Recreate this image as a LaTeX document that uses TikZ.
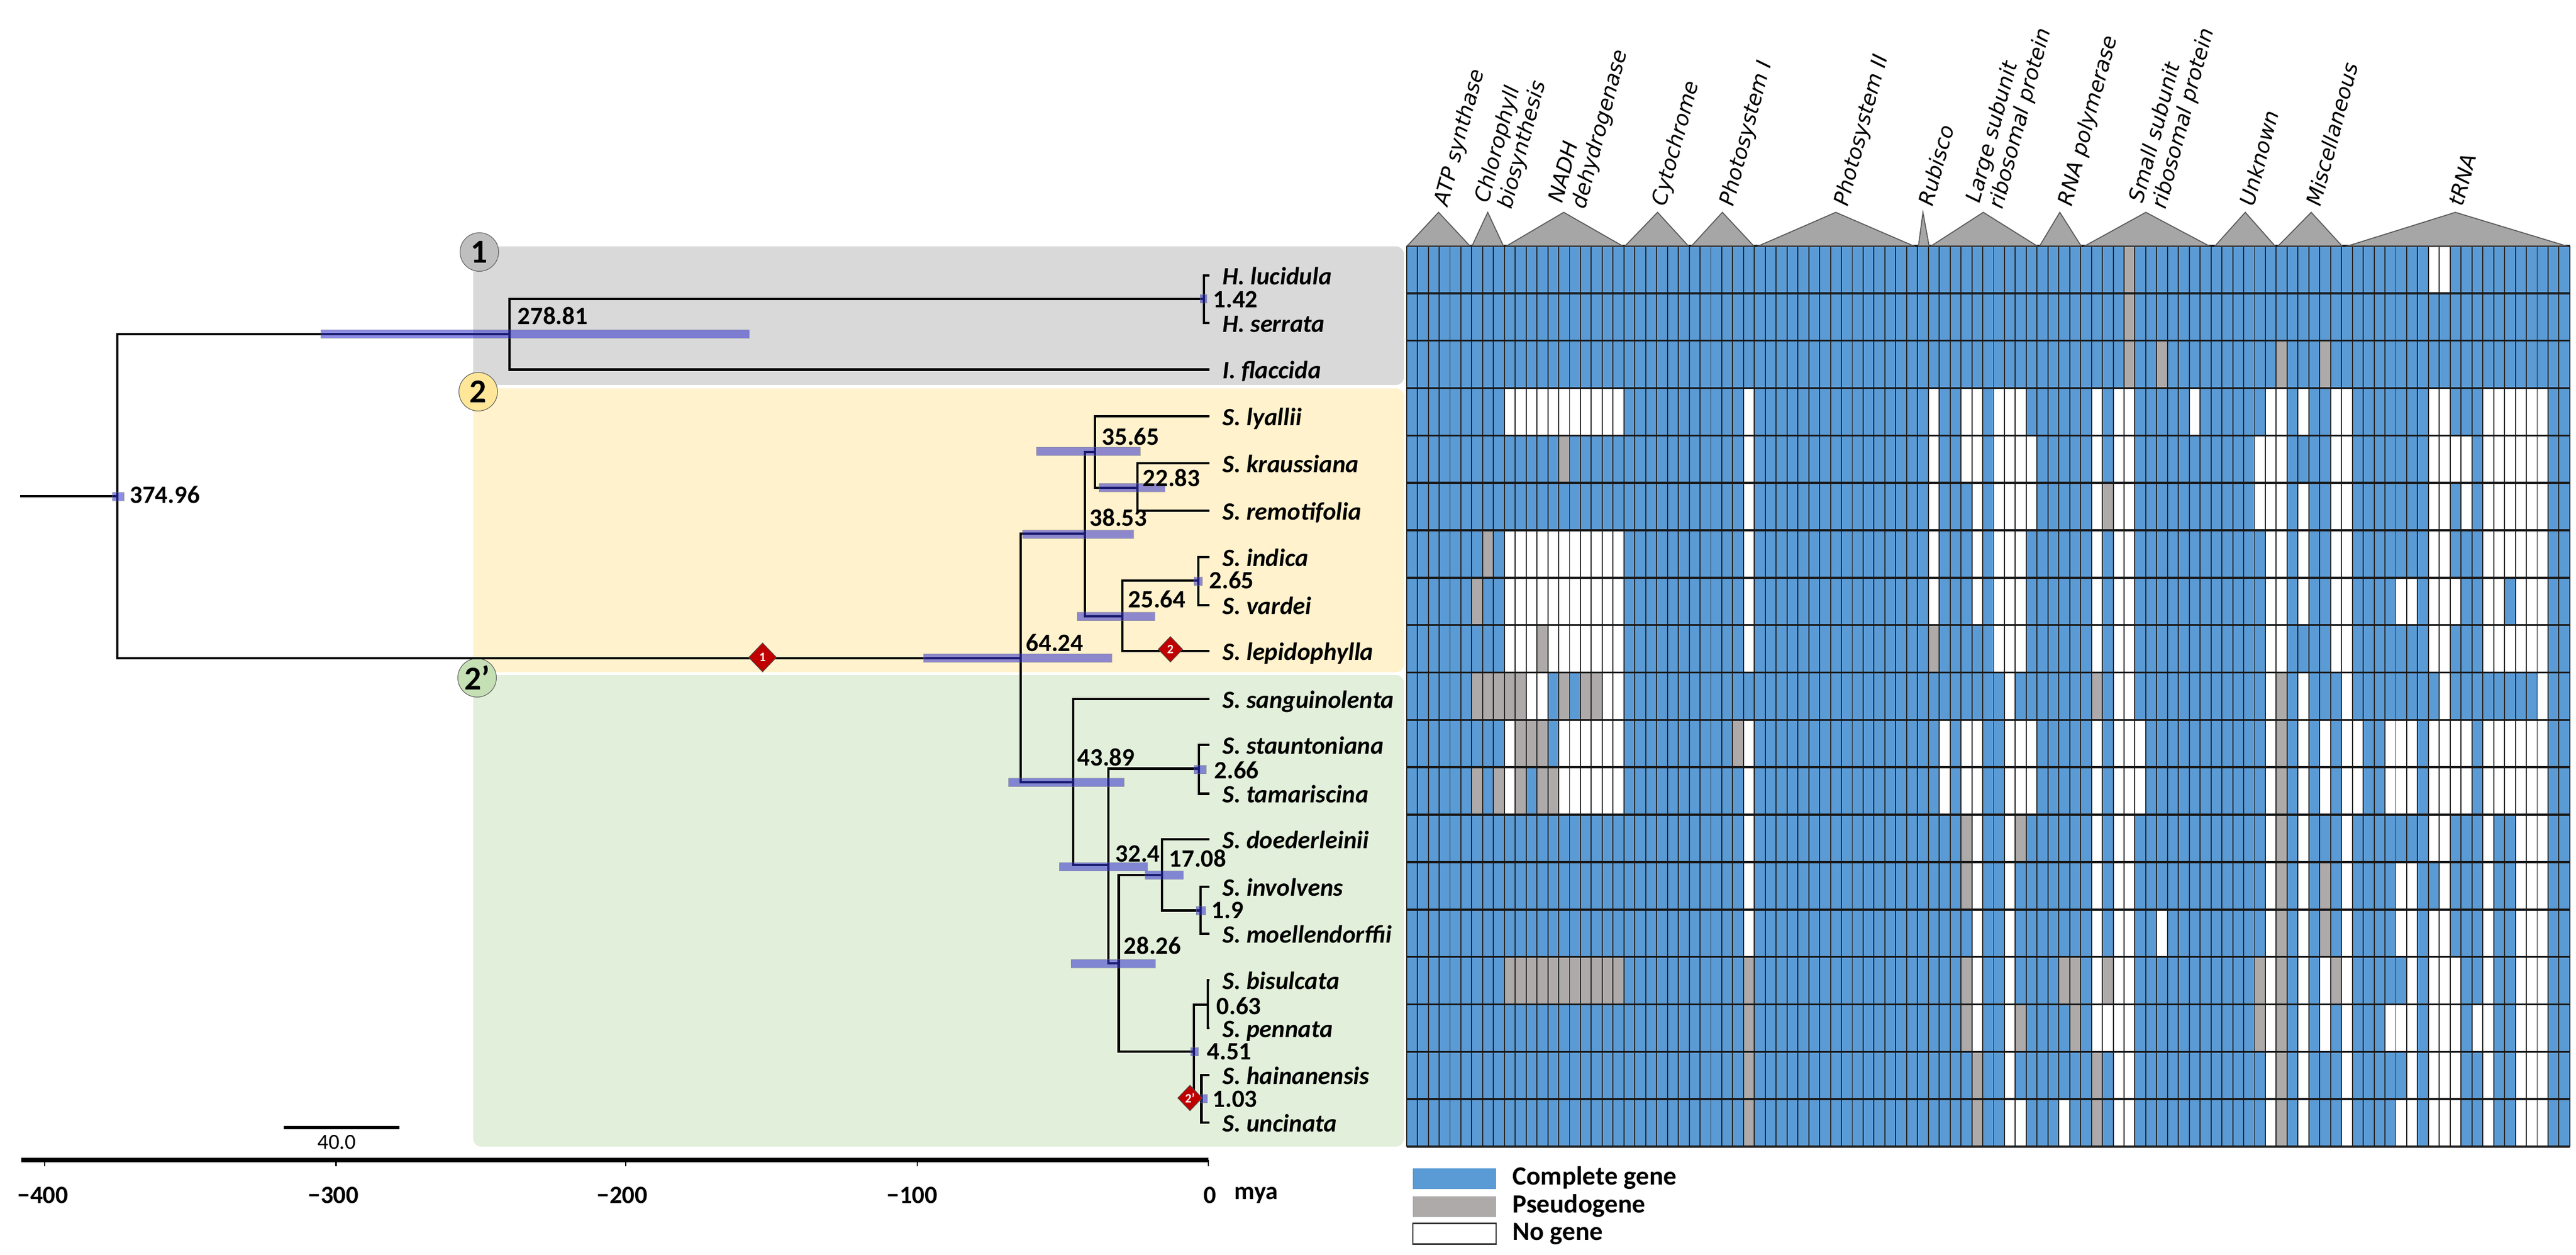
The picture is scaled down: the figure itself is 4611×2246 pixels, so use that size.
\documentclass[tikz,border=0pt]{standalone}
\usepackage{fontspec}
\setmainfont{Carlito}
\newfontfamily\headfont{DejaVu Sans}
\usetikzlibrary{shapes,positioning}

\definecolor{genefill}{HTML}{5B9BD5}
\definecolor{pseudofill}{HTML}{AEAAAA}
\definecolor{trifill}{HTML}{A6A6A6}
\definecolor{hpdblue}{HTML}{3030CC}
\definecolor{markred}{HTML}{C00000}
\definecolor{panelgray}{HTML}{D9D9D9}
\definecolor{panelyellow}{HTML}{FFF2CC}
\definecolor{panelgreen}{HTML}{E2EFDA}
\definecolor{badgegray}{HTML}{BFBFBF}
\definecolor{badgeyellow}{HTML}{FFE699}
\definecolor{badgegreen}{HTML}{C5E0B4}

\tikzset{
    treeline/.style={line width=1.4pt, line cap=rect},
    hpdbar/.style={fill=hpdblue, fill opacity=0.55, draw=black!50, draw opacity=0.5, line width=0.25pt},
    species/.style={anchor=west, inner ysep=0pt, inner xsep=0.245cm, text height=0.41cm, text depth=0.09cm, font=\fontsize{12.7}{14}\selectfont\bfseries\itshape},
    agelabel/.style={anchor=west, inner sep=0pt, font=\fontsize{12.7}{14}\selectfont\bfseries},
    axislabel/.style={inner sep=0pt, font=\fontsize{12.7}{14}\selectfont\bfseries},
    panelbox/.style={rounded corners=0.14cm},
    cladebadge/.style={circle, draw=black!65, line width=0.3pt, inner sep=0pt, minimum size=0.69cm, font=\fontsize{17}{18}\selectfont\bfseries},
    eventmark/.style={diamond, draw=black!70, line width=0.3pt, fill=markred, text=white, inner sep=0pt, minimum width=0.44cm, minimum height=0.46cm, font=\fontsize{6.5}{7}\selectfont\bfseries},
    grouptri/.style={draw=black!65, fill=trifill, line width=0.5pt, line join=miter},
    grouplabel/.style={rotate=75, anchor=west, inner sep=0pt, align=left, font=\headfont\fontsize{10.7}{12}\selectfont\itshape},
    legendkey/.style={rectangle, inner sep=0pt, minimum width=1.49cm, minimum height=0.37cm},
    legendtext/.style={inner sep=0pt, text height=0.32cm, text depth=0.09cm, font=\fontsize{13.4}{15}\selectfont\bfseries}
}

\begin{document}
\begin{tikzpicture}[x=0.01cm, y=-0.01cm]
    \useasboundingbox (0,0) rectangle (4611,2246);

    \fill[panelbox, fill=panelgray] (847,441) rectangle (2513,689);
    \fill[panelbox, fill=panelyellow] (847,695) rectangle (2513,1203);
    \fill[panelbox, fill=panelgreen] (847,1208) rectangle (2513,2052);

    \node[cladebadge, fill=badgegray] (cladeone) at (858,451) {1};
    \node[cladebadge, fill=badgeyellow] (cladetwo) at (856,701) {2};
    \node[cladebadge, fill=badgegreen] (cladetwoprime) at (854,1213) {2’};

    \coordinate (rootstem) at (38,888);
    \coordinate (n37496) at (210,888);
    \coordinate (n27881) at (912,598);
    \coordinate (n142) at (2155,535);
    \coordinate (n6424) at (1827,1178);
    \coordinate (n3853) at (1942,955);
    \coordinate (n3565) at (1960,809);
    \coordinate (n2283) at (2036,873);
    \coordinate (n2564) at (2009,1103);
    \coordinate (n265) at (2145,1039);
    \coordinate (n4389) at (1921,1400);
    \coordinate (n324) at (1984,1548);
    \coordinate (n266) at (2146,1375.5);
    \coordinate (n2826) at (2002.5,1724);
    \coordinate (n1708) at (2080,1566);
    \coordinate (n19) at (2149,1629.5);
    \coordinate (n451) at (2137,1882);
    \coordinate (n063) at (2162,1798);
    \coordinate (n103) at (2150.5,1965);

    \foreach \nm/\yp/\txt in {lucidula/493/H. lucidula, serrata/578/H. serrata, flaccida/661.7/I. flaccida,
        lyallii/745/S. lyallii, kraussiana/829/S. kraussiana, remotifolia/914/S. remotifolia,
        indica/997/S. indica, vardei/1083/S. vardei, lepidophylla/1165/S. lepidophylla,
        sanguinolenta/1251/S. sanguinolenta, stauntoniana/1333/S. stauntoniana, tamariscina/1420.5/S. tamariscina,
        doederleinii/1502/S. doederleinii, involvens/1587/S. involvens, moellendorffii/1671/S. moellendorffii,
        bisulcata/1754/S. bisulcata, pennata/1840/S. pennata, hainanensis/1924/S. hainanensis, uncinata/2009/S. uncinata}
        \node[species] (\nm) at (2163,\yp) {\txt};

    \draw[treeline] (rootstem) -- (n37496);
    \foreach \pa/\ch in {n37496/n27881, n37496/n6424, n27881/n142, n27881/flaccida.west, n142/lucidula.west, n142/serrata.west,
        n6424/n3853, n6424/n4389, n3853/n3565, n3853/n2564, n3565/lyallii.west, n3565/n2283,
        n2283/kraussiana.west, n2283/remotifolia.west, n2564/n265, n2564/lepidophylla.west, n265/indica.west, n265/vardei.west,
        n4389/sanguinolenta.west, n4389/n324, n324/n266, n324/n2826, n266/stauntoniana.west, n266/tamariscina.west,
        n2826/n1708, n2826/n451, n1708/doederleinii.west, n1708/n19, n19/involvens.west, n19/moellendorffii.west,
        n451/n063, n451/n103, n063/bisulcata.west, n063/pennata.west, n103/hainanensis.west, n103/uncinata.west}
        \draw[treeline] (\pa) |- (\ch);

    \foreach \xa/\xb/\yc in {574/1341/598, 201/222/889, 2148/2160/535, 1653/1990/1177.5, 1830/2029/956, 1855/2041/808,
        1967/2085/872.5, 1928/2067/1103, 2137/2152/1040, 1805/2012/1400, 1896/2054/1551, 2137/2159/1377,
        1917/2068/1724.5, 2049.5/2118/1566, 2141/2158/1629.5, 2131/2145/1882, 2149/2161/1966}
        \filldraw[hpdbar] (\xa,\yc-7.5) rectangle (\xb,\yc+7.5);

    \foreach \nm/\xp/\yp/\txt in {a37496/232/885/374.96, a27881/926/565/278.81, a142/2171/536/1.42, a3565/1972/781/35.65,
        a2283/2045/855/22.83, a3853/1950/926/38.53, a265/2164/1038/2.65, a2564/2019/1072/25.64, a6424/1836/1150/64.24,
        a4389/1928/1355/43.89, a266/2173/1378/2.66, a324/1996/1528/32.4, a1708/2092/1536/17.08, a19/2168/1629.5/1.9,
        a2826/2011/1692/28.26, a063/2177/1800/0.63, a451/2160/1882/4.51, a103/2170/1967/1.03}
        \node[agelabel] (\nm) at (\xp,\yp) {\txt};

    \node[eventmark, minimum width=0.5cm, minimum height=0.52cm] (eventone) at (1365,1176.5) {1};
    \node[eventmark] (eventtwo) at (2095,1162) {2};
    \node[eventmark] (eventtwoprime) at (2130,1965) {2’};

    \draw[line width=1.7pt] (508,2018) -- (715,2018);
    \node[inner sep=0pt, font=\fontsize{11}{12}\selectfont] (scalevalue) at (603,2044) {40.0};

    \draw[line width=2pt] (38,2076) -- (2163,2076);
    \foreach \xp in {340,862,1382,1903}
        \draw[line width=0.5pt] (\xp,2076) -- (\xp,2080);
    \foreach \nm/\xp/\xl/\txt in {tfour/80/77/−400, tthree/601.5/597/−300, ttwo/1120/1114/−200, tone/1642/1633/−100, tzero/2163/2166/0} {
        \draw[line width=0.7pt] (\xp,2076) -- (\xp,2087);
        \node[axislabel] (\nm) at (\xl,2139) {\txt};
    }
    \node[axislabel, anchor=west] (axisunit) at (2209,2139) {mya};

    \fill[genefill] (2517.6,440) rectangle (4600,2052);
    \foreach \r/\cols in {0/{94,95}, 3/{9,10,...,19,31,48,51,52,54,55,56,63,65,66,72,79,80,82,85,86,94,95,99,100,...,104},
        4/{31,48,51,52,54,55,56,57,63,65,66,78,79,80,85,86,94,95,96,97,99,100,...,104},
        5/{31,48,52,54,55,56,57,63,65,66,78,79,80,82,85,86,94,95,97,99,100,...,104},
        6/{9,10,...,19,31,48,52,54,55,56,63,65,66,79,80,82,85,86,94,95,99,100,...,104},
        7/{9,10,...,19,31,48,52,54,55,56,63,65,66,79,80,82,85,86,91,92,94,95,96,99,100,102,103,104},
        8/{9,10,11,13,14,...,19,31,54,55,56,63,65,66,79,80,85,86,94,95,99,100,...,104},
        9/{11,12,18,19,55,65,66,79,82,86,95,104},
        10/{9,14,15,...,19,31,49,51,52,55,56,57,63,65,66,67,79,82,84,86,87,90,91,92,94,95,96,97,99,100,...,104},
        11/{9,14,15,...,19,31,49,51,52,55,56,57,63,65,66,67,79,82,84,86,87,90,91,92,94,95,96,97,99,100,...,104},
        12/{31,52,55,63,65,66,79,82,86,94,95,99,102,103,104},
        13/{31,52,55,63,65,66,79,82,86,91,92,95,99,102,103,104},
        14/{31,52,55,63,65,66,69,79,82,86,91,92,94,95,99,102,103,104},
        15/{52,55,63,65,66,79,82,84,86,92,94,95,96,99,102,103,104},
        16/{52,55,63,64,65,66,79,82,84,86,90,91,92,94,95,96,98,99,102,103,104},
        17/{55,65,66,79,82,86,92,94,95,96,99,102,103,104},
        18/{55,56,60,65,66,79,82,86,91,92,94,95,96,99,102,103,104}}
        \foreach \c in \cols
            \fill[white] ({2517.6+\c*19.46},{440+\r*84.84}) rectangle +(19.46,84.84);
    \foreach \r/\cols in {0/{66}, 1/{66}, 2/{66,69,80,84}, 4/{14}, 5/{64}, 6/{7}, 7/{6}, 8/{12,48},
        9/{6,7,8,9,10,14,16,17,63,80}, 10/{10,11,12,30,80}, 11/{6,8,10,12,13,80}, 12/{51,56,80}, 13/{51,80,84}, 14/{80,84},
        15/{9,10,...,19,31,51,60,61,64,78,80,85}, 16/{31,51,56,61,78,80}, 17/{31,52,63,80}, 18/{31,52,63,80}}
        \foreach \c in \cols
            \fill[pseudofill] ({2517.6+\c*19.46},{440+\r*84.84}) rectangle +(19.46,84.84);
    \foreach \c in {0,...,107}
        \draw[line width=0.55pt, black!85] ({2517.6+\c*19.46},440) -- ({2517.6+\c*19.46},2052);
    \foreach \r in {0,...,19}
        \draw[line width=1pt, black!90] (2517.6,{440+\r*84.84}) -- (4600,{440+\r*84.84});

    \foreach \xa/\xm/\xb in {2519/2575/2631, 2635/2663/2691, 2697/2799/2904, 2909/2967/3022, 3028/3083/3139, 3148/3286/3425,
        3434/3442/3453, 3457/3550/3646, 3651/3687/3725, 3732/3841/3954, 3965/4019/4072, 4078/4137/4192, 4203/4395/4593}
        \draw[grouptri] (\xa,440) -- (\xm,380) -- (\xb,440) -- cycle;

    \foreach \nm/\xp/\txt in {atpsyn/2581/ATP synthase, chlorobio/2675/{Chlorophyll\\biosynthesis}, nadhdeh/2807/{NADH\\dehydrogenase},
        cytochrome/2971/Cytochrome, photoone/3092/Photosystem I, phototwo/3297/Photosystem II, rubisco/3446/Rubisco,
        largesub/3554/{Large subunit\\ribosomal protein}, rnapol/3698/RNA polymerase, smallsub/3846/{Small subunit\\ribosomal protein},
        unknown/4021/Unknown, miscell/4140/Miscellaneous, trna/4395/tRNA}
        \node[grouplabel] (\nm) at (\xp,368) {\txt};

    \node[legendkey, fill=genefill] (keycomplete) at (2603.5,2109) {};
    \node[legendkey, fill=pseudofill] (keypseudo) at (2603.5,2159) {};
    \node[legendkey, draw=black!80, line width=0.6pt, fill=white] (keynone) at (2603.5,2208) {};
    \node[legendtext, right=0.28cm of keycomplete] (labelcomplete) {Complete gene};
    \node[legendtext, right=0.28cm of keypseudo] (labelpseudo) {Pseudogene};
    \node[legendtext, right=0.28cm of keynone] (labelnone) {No gene};
\end{tikzpicture}
\end{document}
